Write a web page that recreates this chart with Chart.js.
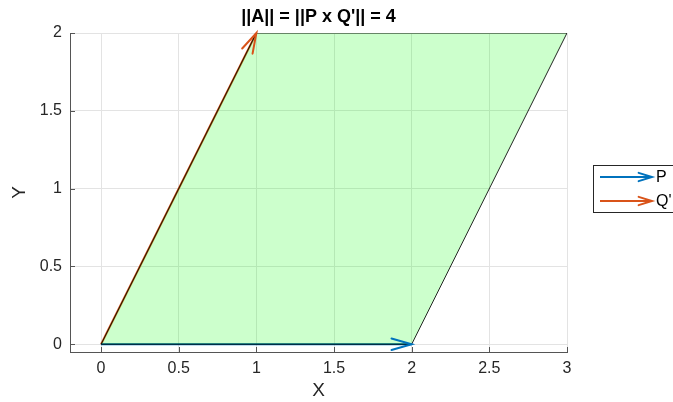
<!DOCTYPE html>
<html><head><meta charset="utf-8">
<script src="https://cdn.jsdelivr.net/npm/chart.js@4/dist/chart.umd.min.js"></script>
<style>html,body{margin:0;padding:0;background:#fff;overflow:hidden}#wrap{width:673px;height:402px;position:relative}</style>
</head><body><div id="wrap"><canvas id="c" width="673" height="402"></canvas></div>
<script>
const titleText = "||A|| = ||P x Q'|| = 4";
const polyX = [0, 2, 3, 1, 0];
const polyY = [0, 0, 2, 2, 0];
const vecP = [2, 0];
const vecQ = [1, 2];
const origin = [0, 0];
const seriesLabels = ['P', "Q'"];
const seriesColors = ['#0072BD', '#D95319'];
const xTicks = [0, 0.5, 1, 1.5, 2, 2.5, 3];
const yTicks = [0, 0.5, 1, 1.5, 2];
const xRange = [-0.2, 3];
const yRange = [-0.05, 2];

const FONT = '"Liberation Sans", Arial, Helvetica, sans-serif';
const TXT = '#262626';

const polyData = polyX.map((x, i) => ({x: x, y: polyY[i]}));
const vecs = [vecP, vecQ];

const datasets = [
  {
    label: 'poly', isPoly: true,
    data: polyData, showLine: true, pointRadius: 0,
    borderColor: 'rgba(0,0,0,0.85)', borderWidth: 1,
    backgroundColor: 'rgba(0,255,0,0.2)', fill: 'shape', order: 0
  }
];
vecs.forEach((v, i) => {
  datasets.push({
    label: seriesLabels[i], isArrow: true,
    data: [{x: origin[0], y: origin[1]}, {x: v[0], y: v[1]}],
    showLine: true, pointRadius: 0, borderColor: seriesColors[i],
    borderWidth: 2, fill: false, order: 1
  });
});

function drawHead(ctx, x0, y0, x1, y1, color, L, ang) {
  const a = Math.atan2(y1 - y0, x1 - x0);
  ctx.save();
  ctx.strokeStyle = color; ctx.lineWidth = 2; ctx.lineCap = 'round';
  ctx.beginPath();
  ctx.moveTo(x1 - L * Math.cos(a - ang), y1 - L * Math.sin(a - ang));
  ctx.lineTo(x1, y1);
  ctx.lineTo(x1 - L * Math.cos(a + ang), y1 - L * Math.sin(a + ang));
  ctx.stroke();
  ctx.restore();
}

const extras = {
  id: 'extras',
  afterDatasetsDraw(chart) {
    const ctx = chart.ctx, xs = chart.scales.x, ys = chart.scales.y;
    chart.data.datasets.forEach(ds => {
      if (!ds.isArrow) return;
      const p0 = ds.data[0], p1 = ds.data[1];
      drawHead(ctx, xs.getPixelForValue(p0.x), ys.getPixelForValue(p0.y),
        xs.getPixelForValue(p1.x), ys.getPixelForValue(p1.y), ds.borderColor, 21, 0.28);
    });
  },
  afterDraw(chart) {
    const ctx = chart.ctx, xs = chart.scales.x, ys = chart.scales.y, ca = chart.chartArea;
    // inward ticks
    ctx.save();
    ctx.strokeStyle = '#555'; ctx.lineWidth = 1;
    ctx.beginPath();
    xTicks.forEach(t => { const px = Math.round(xs.getPixelForValue(t)) + 0.5; ctx.moveTo(px, ca.bottom); ctx.lineTo(px, ca.bottom - 5); });
    yTicks.forEach(t => { const py = Math.round(ys.getPixelForValue(t)) + 0.5; ctx.moveTo(ca.left, py); ctx.lineTo(ca.left + 5, py); });
    ctx.stroke();
    // title
    ctx.fillStyle = '#000';
    ctx.font = 'bold 18px ' + FONT;
    ctx.textAlign = 'center'; ctx.textBaseline = 'middle';
    ctx.fillText(titleText, (ca.left + ca.right) / 2, 17);
    // legend
    const bx = 593.5, by = 165.5, bw = 100, bh = 47;
    ctx.fillStyle = '#fff'; ctx.fillRect(bx, by, bw, bh);
    ctx.strokeStyle = '#262626'; ctx.lineWidth = 1; ctx.strokeRect(bx, by, bw, bh);
    ctx.font = '16px ' + FONT; ctx.textAlign = 'left'; ctx.fillStyle = '#000';
    chart.data.datasets.filter(d => d.isArrow).forEach((d, i) => {
      const yy = 177 + i * 24;
      ctx.strokeStyle = d.borderColor; ctx.lineWidth = 2;
      ctx.beginPath(); ctx.moveTo(600, yy); ctx.lineTo(652, yy); ctx.stroke();
      drawHead(ctx, 600, yy, 652, yy, d.borderColor, 14, 0.3);
      ctx.fillStyle = '#000';
      ctx.fillText(d.label, 656, yy + 1);
    });
    ctx.restore();
  }
};

new Chart(document.getElementById('c'), {
  type: 'scatter',
  data: {datasets: datasets},
  options: {
    responsive: false, devicePixelRatio: 1, animation: false,
    layout: {padding: {left: 0, top: 33, right: 106, bottom: 0}},
    plugins: {legend: {display: false}, title: {display: false}, tooltip: {enabled: false}},
    scales: {
      x: {
        type: 'linear', min: xRange[0], max: xRange[1],
        afterBuildTicks: s => { s.ticks = xTicks.map(v => ({value: v})); },
        afterFit: s => { s.height = 50; },
        grid: {color: '#e3e3e3', drawTicks: false, lineWidth: 1},
        border: {display: true, color: '#555', width: 1},
        ticks: {color: TXT, font: {family: FONT, size: 16}, padding: 7, maxRotation: 0,
          callback: v => String(v)},
        title: {display: true, text: 'X', color: TXT, font: {family: FONT, size: 19}, padding: {top: 3, bottom: 0}}
      },
      y: {
        type: 'linear', min: yRange[0], max: yRange[1],
        afterBuildTicks: s => { s.ticks = yTicks.map(v => ({value: v})); },
        afterFit: s => { s.width = 70; },
        grid: {color: '#e3e3e3', drawTicks: false, lineWidth: 1},
        border: {display: true, color: '#555', width: 1},
        ticks: {color: TXT, font: {family: FONT, size: 16}, padding: 8,
          callback: v => String(v)},
        title: {display: true, text: 'Y', color: TXT, font: {family: FONT, size: 19}, padding: {top: 8, bottom: 0}}
      }
    }
  },
  plugins: [extras]
});
</script></body></html>
